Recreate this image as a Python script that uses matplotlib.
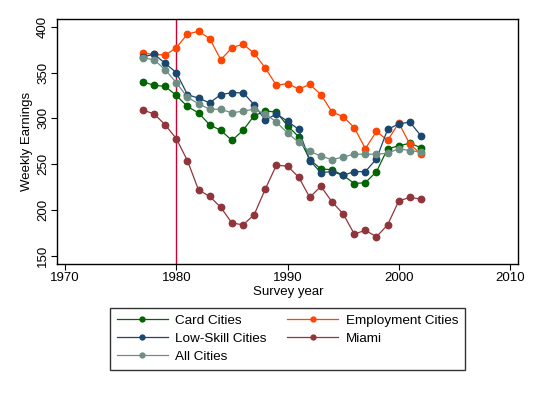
import matplotlib
matplotlib.use("Agg")
import matplotlib.pyplot as plt
from matplotlib.lines import Line2D

plt.rcParams['font.family'] = ['Liberation Sans', 'DejaVu Sans']

years = list(range(1977, 2003))
card = [340, 336, 335, 325, 313, 306, 293, 287, 276, 287, 303, 308, 307,
        292, 280, 255, 245, 244, 238, 229, 230, 242, 267, 270, 273, 268]
employment = [371, 370, 369, 377, 392, 395, 387, 364, 377, 381, 371, 355, 336,
              338, 332, 337, 326, 307, 302, 290, 267, 286, 276, 295, 272, 261]
lowskill = [367, 370, 360, 350, 326, 322, 317, 326, 328, 328, 315, 298, 305,
            297, 288, 254, 241, 242, 238, 242, 242, 256, 288, 294, 296, 281]
miami = [309, 305, 293, 278, 254, 222, 215, 203, 186, 184, 195, 223, 249,
         248, 236, 214, 226, 209, 196, 174, 178, 171, 184, 210, 214, 212]
allcities = [366, 364, 353, 339, 323, 316, 310, 310, 306, 308, 310, 305, 296,
             284, 274, 264, 259, 255, 258, 261, 261, 261, 262, 267, 265, 263]

xticks = [1970, 1980, 1990, 2000, 2010]
yticks = [150, 200, 250, 300, 350, 400]

series = [
    ("Card Cities", card, "#006400"),
    ("Employment Cities", employment, "#FF4500"),
    ("Low-Skill Cities", lowskill, "#1A476F"),
    ("Miami", miami, "#90353B"),
    ("All Cities", allcities, "#6E8E84"),
]

fig = plt.figure(figsize=(5.37, 3.93), dpi=100)
ax = fig.add_axes([57.3/537, 1-264/393, (518.3-57.3)/537, (264-18.7)/393])

ax.axvline(1980, color="#CC0033", lw=1.0, zorder=1)
for name, vals, col in series:
    ax.plot(years, vals, color=col, lw=0.9, marker='o', markersize=4.6,
            markeredgecolor=col, markerfacecolor=col, zorder=3)

ax.set_xlim(1969.3, 2010.75)
ax.set_ylim(141.3, 408.7)
ax.set_xticks(xticks)
ax.set_yticks(yticks)
ax.set_yticklabels([str(t) for t in yticks], rotation=90, va='center')
ax.tick_params(labelsize=9.5, length=4, width=0.8, direction='out', pad=2)
for s in ax.spines.values():
    s.set_linewidth(1.0)
ax.set_xlabel("Survey year", fontsize=9.5, labelpad=1)
ax.set_ylabel("Weekly Earnings", fontsize=9.5, labelpad=3)

handles = [Line2D([0], [0], color=col, lw=0.9, marker='o', markersize=3.5,
                  markeredgecolor=col, markerfacecolor=col)
           for _, _, col in series]
labels = [n for n, _, _ in series]
order = [0, 2, 4, 1, 3]
leg = fig.legend([handles[i] for i in order], [labels[i] for i in order],
                 ncol=2, loc='center', bbox_to_anchor=(287.5/537, 1-338.8/393),
                 fontsize=9.7, frameon=True, fancybox=False, edgecolor='black',
                 handlelength=3.8, columnspacing=1.5, labelspacing=0.4,
                 borderpad=0.5, handletextpad=0.55)
leg.get_frame().set_linewidth(1.0)

fig.savefig("out.png", dpi=100, facecolor='white')
